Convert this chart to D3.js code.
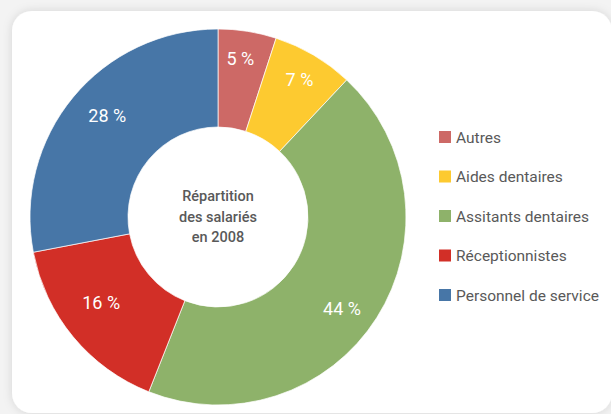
<!DOCTYPE html>
<html>
<head>
<meta charset="utf-8">
<script src="https://cdn.jsdelivr.net/npm/d3@7"></script>
<style>
  html, body { margin: 0; padding: 0; background: #f3f3f3; }
  svg { display: block; font-family: Roboto, "Noto Sans", sans-serif; }
</style>
</head>
<body>
<svg id="chart"></svg>
<script>
// data
const categories = ['Autres', 'Aides dentaires', 'Assitants dentaires', 'Réceptionnistes', 'Personnel de service'];
const values = [5, 7, 44, 16, 28];
const colors = ['#cd6966', '#fdca30', '#8eb26a', '#d22f27', '#4776a7'];
const centerLines = ['Répartition', 'des salariés', 'en 2008'];

const width = 611, height = 414;
const cx = 218, cy = 217;
const outerR = 188, innerR = 90;
// excel "best fit" label placement: radius and small angle shift (deg) per slice
const labelR = [160, 160, 154, 145, 150];
const labelShift = [-1, 0, 4, 3.3, 2.8];

const svg = d3.select('#chart')
  .attr('width', width)
  .attr('height', height);

const defs = svg.append('defs');
const shadow = defs.append('filter')
  .attr('id', 'shadow')
  .attr('x', '-10%').attr('y', '-10%')
  .attr('width', '120%').attr('height', '120%');
shadow.append('feDropShadow')
  .attr('dx', 0).attr('dy', 0)
  .attr('stdDeviation', 5)
  .attr('flood-color', '#000')
  .attr('flood-opacity', 0.13);

// card
svg.append('rect')
  .attr('x', 12).attr('y', 11)
  .attr('width', 600).attr('height', 402)
  .attr('rx', 20).attr('ry', 20)
  .attr('fill', '#fff')
  .attr('filter', 'url(#shadow)');

const data = categories.map((c, i) => ({ name: c, value: values[i], color: colors[i] }));

const pie = d3.pie()
  .value(d => d.value)
  .sort(null);

const arc = d3.arc()
  .innerRadius(innerR)
  .outerRadius(outerR);

const g = svg.append('g')
  .attr('transform', `translate(${cx},${cy})`);

const arcs = pie(data);

g.selectAll('path')
  .data(arcs)
  .join('path')
  .attr('d', arc)
  .attr('fill', d => d.data.color)
  .attr('stroke', '#fff')
  .attr('stroke-width', 0.7);

g.selectAll('text.lbl')
  .data(arcs)
  .join('text')
  .attr('class', 'lbl')
  .attr('transform', (d, i) => {
    const a = (d.startAngle + d.endAngle) / 2 + labelShift[i] * Math.PI / 180;
    return `translate(${d3.pointRadial(a, labelR[i])})`;
  })
  .attr('text-anchor', 'middle')
  .attr('dy', '0.36em')
  .attr('fill', '#fff')
  .attr('font-size', 18)
  .text(d => d.data.value + ' %');

// centre title
const title = g.append('text')
  .attr('text-anchor', 'middle')
  .attr('fill', '#595959')
  .attr('font-size', 14.5)
  .attr('font-weight', 500);
title.selectAll('tspan')
  .data(centerLines)
  .join('tspan')
  .attr('x', 0)
  .attr('y', (d, i) => -16 + i * 20.5)
  .text(d => d);

// legend
const legendY = d3.scalePoint()
  .domain(categories)
  .range([137, 295]);

const legend = svg.append('g')
  .selectAll('g')
  .data(data)
  .join('g')
  .attr('transform', d => `translate(439,${legendY(d.name)})`);

legend.append('rect')
  .attr('x', 0).attr('y', -6)
  .attr('width', 12).attr('height', 12)
  .attr('fill', d => d.color);

legend.append('text')
  .attr('x', 17)
  .attr('dy', '0.36em')
  .attr('fill', '#595959')
  .attr('font-size', 15.5)
  .text(d => d.name);
</script>
</body>
</html>
